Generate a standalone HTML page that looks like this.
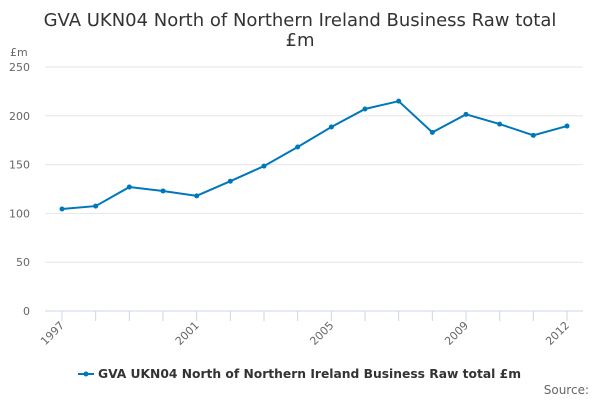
<!DOCTYPE html>
<html><head><meta charset="utf-8"><style>
body{margin:0;background:#fff;font-family:"Liberation Sans","DejaVu Sans",sans-serif;}
svg text{font-family:"DejaVu Sans","Liberation Sans",sans-serif;}
</style></head><body>
<svg id="c" width="600" height="400">
<text x="300" y="26" text-anchor="middle" font-size="18" fill="#333">GVA UKN04 North of Northern Ireland Business Raw total</text>
<text x="300" y="46" text-anchor="middle" font-size="18" fill="#333">£m</text>
<text x="10" y="56" font-size="11" fill="#666">£m</text>
<g id="grid"></g><g id="xaxis"></g><g id="series"></g>
<g>
<line x1="78" y1="374" x2="94" y2="374" stroke="#0077bb" stroke-width="2"/>
<circle cx="86" cy="374" r="2.5" fill="#0077bb"/>
<text x="98" y="378" font-size="12" font-weight="bold" fill="#333" textLength="423" lengthAdjust="spacingAndGlyphs">GVA UKN04 North of Northern Ireland Business Raw total £m</text>
</g>
<text x="589" y="394" text-anchor="end" font-size="12" fill="#666">Source:</text>
</svg>
<script>
const years=[1997,1998,1999,2000,2001,2002,2003,2004,2005,2006,2007,2008,2009,2010,2011,2012];
const values=[104.5,107.5,127,123,118,133,148.5,168,188.5,207,215,183,201.5,191.5,180,189.5];
const yTicks=[0,50,100,150,200,250];
const xLabels=[1997,2001,2005,2009,2012];
const ns="http://www.w3.org/2000/svg";
const X=y=>62+(y-1997)*(505/15);
const Y=v=>311-v*(244/250);
function mk(t,a,p){const e=document.createElementNS(ns,t);for(const k in a)e.setAttribute(k,a[k]);p.appendChild(e);return e;}
const g=document.getElementById('grid');
yTicks.forEach(t=>{
 const l=mk('line',{x1:45,x2:583,y1:Y(t),y2:Y(t),stroke:t===0?'#ccd6eb':'#e6e6e6'},g);
 
 
 const tx=mk('text',{x:30,y:Y(t)+4,'text-anchor':'end','font-size':11,fill:'#666'},g);
 tx.textContent=t;
 
 
});
const xa=document.getElementById('xaxis');
years.forEach(y=>{const l=mk('line',{x1:X(y),x2:X(y),y1:311,y2:321,stroke:'#ccd6eb'},xa);
 
 });
xLabels.forEach(y=>{const t=mk('text',{x:X(y)+3,y:326,'text-anchor':'end','font-size':11,fill:'#666',transform:`rotate(-45 ${X(y)+3} 326)`},xa);
 t.textContent=y;
 
 });
const s=document.getElementById('series');
const p=mk('polyline',{points:years.map((y,i)=>X(y)+','+Y(values[i])).join(' '),fill:'none',stroke:'#0077bb','stroke-width':2},s);


years.forEach((y,i)=>{const c=mk('circle',{cx:X(y),cy:Y(values[i]),r:2.5,fill:'#0077bb'},s);
 
 });
</script>
</body></html>
